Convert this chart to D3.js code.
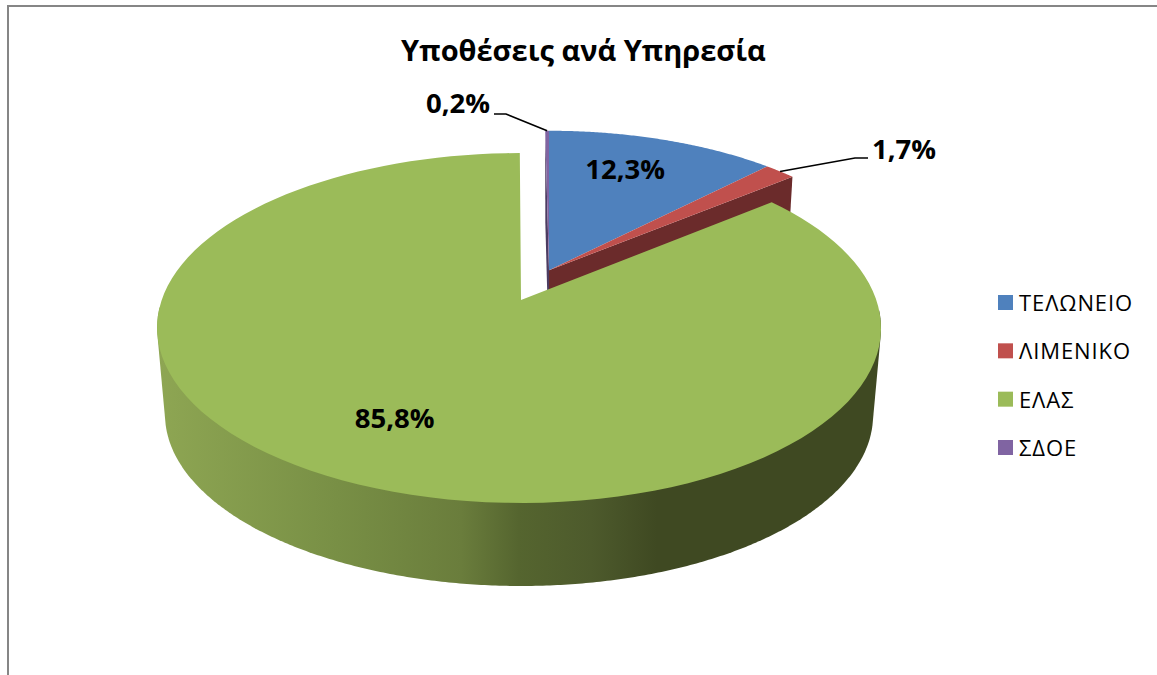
<!DOCTYPE html>
<html><head><meta charset="utf-8">
<script src="https://cdn.jsdelivr.net/npm/d3@7/dist/d3.min.js"></script>
<style>html,body{margin:0;padding:0;background:#fff;overflow:hidden}svg{display:block}text{font-family:"Open Sans",sans-serif;fill:#000}</style>
</head><body><svg id="c" width="1157" height="675"></svg>
<script>
const chartTitle = "Υποθέσεις ανά Υπηρεσία";
const categories = ["ΤΕΛΩΝΕΙΟ", "ΛΙΜΕΝΙΚΟ", "ΕΛΑΣ", "ΣΔΟΕ"];
const shares = [12.3, 1.7, 85.8, 0.2];
const colors = ["#4f81bd", "#c0504d", "#9bbb59", "#8064a2"];
const wallColors = ["#2f4d71", "#6b2b2b", "#5d7035", "#4c3c61"];

const svg = d3.select("#c");
const fmt = v => v.toFixed(1).replace(".", ",") + "%";
const pie = d3.pie().sort(null).value(d => d)(shares);

// perspective projection of the pie disc
const K = 0.16, A = 357.3, B = 170.5, X0 = 521, Y0 = 300;
const DEPTH = 87.5, SHRINK = 0.978, EXPL_X = 28, EXPL_V = 0.18, GREEN_ROT = 0.0087, RIM_SHIFT = 2;
function proj(theta, r, level, exploded) {
  const t = theta + (exploded ? 0 : GREEN_ROT);
  const u = r * Math.sin(t);
  const v = r * Math.cos(t) + (exploded ? EXPL_V : 0);
  const den = 1 + K * v, s = level ? SHRINK : 1;
  return [X0 + (exploded ? EXPL_X : -RIM_SHIFT * u * u) + s * A * u / den,
          Y0 + (level ? DEPTH : 0) - s * B * v / den];
}
const line = d3.line();
function arcPts(a0, a1, level, exploded) {
  return d3.range(0, 121).map(i => proj(a0 + (a1 - a0) * i / 120, 1, level, exploded));
}
function sector(d, level, exploded) {
  return line([proj(d.startAngle, 0, level, exploded), ...arcPts(d.startAngle, d.endAngle, level, exploded)]) + "Z";
}
function cutWall(theta) {
  return line([proj(theta, 0, 0, true), proj(theta, 1, 0, true), proj(theta, 1, 1, true), proj(theta, 0, 1, true)]) + "Z";
}

// frame
svg.append("path").attr("d", "M8 675V6H1157").attr("fill", "none").attr("stroke", "#868686").attr("stroke-width", 2);

// gradient of the round wall
const grad = svg.append("defs").append("linearGradient").attr("id", "wall")
  .attr("gradientUnits", "userSpaceOnUse").attr("x1", 157).attr("x2", 881).attr("y1", 0).attr("y2", 0);
[[0, "#8ea653"], [0.25, "#788f45"], [0.42, "#6a7d3c"], [0.5, "#55652f"], [0.6, "#4d5a2c"], [0.69, "#3f4922"], [1, "#3f4922"]]
  .forEach(s => grad.append("stop").attr("offset", s[0]).attr("stop-color", s[1]));

const [blue, red, green, purple] = pie;
// exploded group
svg.append("path").attr("d", cutWall(purple.startAngle)).attr("fill", wallColors[3]);
svg.append("path").attr("d", cutWall(red.endAngle)).attr("fill", wallColors[1]);
[blue, red, purple].forEach(d => svg.append("path").attr("d", sector(d, 0, true)).attr("fill", colors[d.index]));

// main slice: front wall, then its top
const front = [];
d3.range(0, 720).forEach(i => {
  const t = i / 720 * 2 * Math.PI;
  if (Math.cos(t) < -0.05) { front.push(proj(t, 1, 0, false)); front.push(proj(t, 1, 1, false)); }
});
svg.append("path").attr("d", line(d3.polygonHull(front)) + "Z").attr("fill", "url(#wall)");
svg.append("path").attr("d", sector(green, 0, false)).attr("fill", colors[2]);

// labels
function lbl(text, x, y) {
  svg.append("text").attr("x", x).attr("y", y).attr("text-anchor", "middle")
    .attr("font-size", 27.5).attr("font-weight", 700).text(text);
}
const mid = d => (d.startAngle + d.endAngle) / 2;
const pb = proj(mid(blue), 0.7, 0, true);
lbl(fmt(shares[0]), pb[0] - 7, pb[1] + 4);
const pg = proj(mid(green), 0.7, 0, false);
lbl(fmt(shares[2]), pg[0] - 7, pg[1] + 8);
lbl(fmt(shares[1]), 904, 159);
lbl(fmt(shares[3]), 458, 113);

// leader lines
const leader = d3.line();
const ar = proj(mid(red), 1, 0, true), ap = proj(mid(purple), 1, 0, true);
svg.append("path").attr("d", leader([ar, [855, 158], [868, 158]])).attr("fill", "none").attr("stroke", "#000").attr("stroke-width", 1.6);
svg.append("path").attr("d", leader([ap, [506, 114], [494, 114]])).attr("fill", "none").attr("stroke", "#000").attr("stroke-width", 1.6);

// title
svg.append("text").attr("x", 583.5).attr("y", 61).attr("text-anchor", "middle")
  .attr("font-size", 29).attr("font-weight", 700).text(chartTitle);

// legend
const ly = d3.scalePoint().domain(categories).range([302.5, 447.5]);
const lg = svg.selectAll("g.l").data(categories).join("g").attr("class", "l")
  .attr("transform", d => `translate(998,${ly(d)})`);
lg.append("rect").attr("x", 0).attr("y", -7.5).attr("width", 15).attr("height", 15).attr("fill", (d, i) => colors[i]);
lg.append("text").attr("x", 21).attr("y", 8.5).attr("font-size", 22).attr("letter-spacing", 0.9).text(d => d);
</script></body></html>
